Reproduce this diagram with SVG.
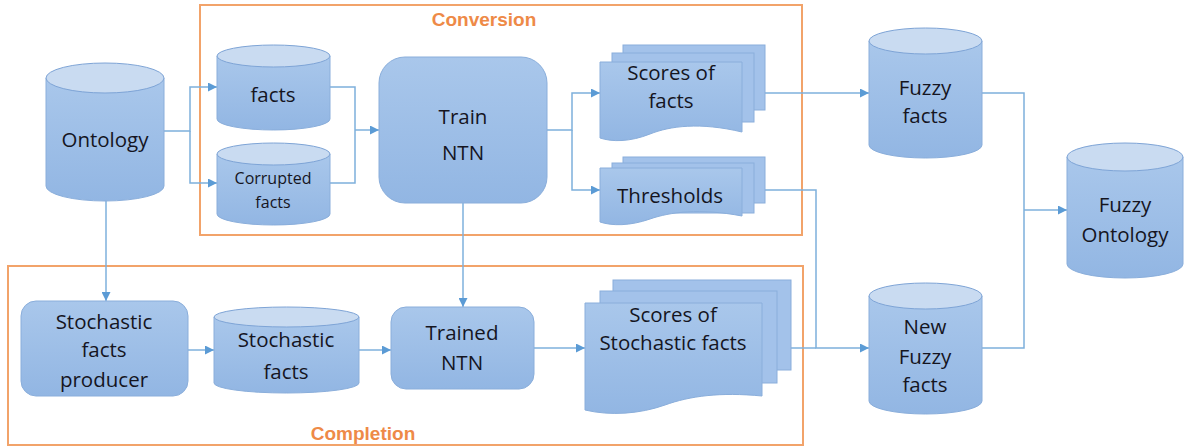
<svg xmlns="http://www.w3.org/2000/svg" width="1184" height="447" viewBox="0 0 1184 447">
<defs>
<linearGradient id="g" x1="0" y1="0" x2="0" y2="1">
<stop offset="0" stop-color="#a9c7eb"/>
<stop offset="1" stop-color="#92b6e3"/>
</linearGradient>
<marker id="a" viewBox="0 0 10 10" refX="10" refY="5" markerWidth="9" markerHeight="9" markerUnits="userSpaceOnUse" orient="auto">
<path d="M0,0 L10,5 L0,10 Z" fill="#5b9bd5"/>
</marker>
</defs>
<style>
.sh{fill:url(#g);stroke:#8aaedb;stroke-width:1}
.top{fill:#c9dbf1;stroke:#7ea4d6;stroke-width:1}
.bk{fill:#a3c2ea;stroke:#8aaedb;stroke-width:1}
.t{font-family:"Open Sans","Liberation Sans",sans-serif;font-size:20.5px;fill:#15151f;text-anchor:middle}
.s{font-size:16px}
.grp{fill:none;stroke:#f2a36a;stroke-width:2}
.lbl{font-family:"Liberation Sans",Arial,sans-serif;font-weight:bold;font-size:19px;fill:#ee8a47;text-anchor:middle}
.c{fill:none;stroke:#7eb0dc;stroke-width:1.5}
</style>
<rect fill="#ffffff" x="0" y="0" width="1184" height="447"/>
<g id="conversion">
<rect class="grp" x="200" y="5" width="602" height="230"/>
<text class="lbl" x="484" y="26">Conversion</text>
</g>
<g id="completion">
<rect class="grp" x="8" y="266" width="795" height="179"/>
<text class="lbl" x="363" y="440">Completion</text>
</g>
<g id="connectors">
<path class="c" d="M164,131 H190 V87 H217" marker-end="url(#a)"/>
<path class="c" d="M190,131 V183 H217" marker-end="url(#a)"/>
<path class="c" d="M330,87 H355 V183 H330"/>
<path class="c" d="M355,130 H379" marker-end="url(#a)"/>
<path class="c" d="M547,130 H572 V93 H600" marker-end="url(#a)"/>
<path class="c" d="M572,130 V190 H600" marker-end="url(#a)"/>
<path class="c" d="M765,93 H869" marker-end="url(#a)"/>
<path class="c" d="M765,190 H816 V348 H869" marker-end="url(#a)"/>
<path class="c" d="M791,348 H816"/>
<path class="c" d="M982,93 H1024 V348 H982"/>
<path class="c" d="M1024,210 H1067" marker-end="url(#a)"/>
<path class="c" d="M106,201 V301" marker-end="url(#a)"/>
<path class="c" d="M463,203 V307" marker-end="url(#a)"/>
<path class="c" d="M188,350 H214" marker-end="url(#a)"/>
<path class="c" d="M359,350 H391" marker-end="url(#a)"/>
<path class="c" d="M534,348 H585" marker-end="url(#a)"/>
</g>
<g id="ontology">
<path class="sh" d="M46,78 V186 A59,15 0 0 0 164,186 V78 Z"/>
<ellipse class="top" cx="105" cy="78" rx="59" ry="15"/>
<text class="t" x="105" y="147">Ontology</text>
</g>
<g id="facts">
<path class="sh" d="M217,56 V119 A56.5,11 0 0 0 330,119 V56 Z"/>
<ellipse class="top" cx="273.5" cy="56" rx="56.5" ry="11"/>
<text class="t" x="273" y="102">facts</text>
</g>
<g id="corrupted-facts">
<path class="sh" d="M217,154 V214 A56.5,11 0 0 0 330,214 V154 Z"/>
<ellipse class="top" cx="273.5" cy="154" rx="56.5" ry="11"/>
<text class="t s" x="273" y="184">Corrupted</text>
<text class="t s" x="273" y="208">facts</text>
</g>
<g id="train-ntn">
<rect class="sh" x="379" y="57" width="168" height="146" rx="26"/>
<text class="t" x="463" y="124">Train</text>
<text class="t" x="463" y="160">NTN</text>
</g>
<g id="scores-of-facts">
<rect class="bk" x="623" y="45" width="142" height="65"/>
<rect class="bk" x="612" y="53" width="142" height="69"/>
<path class="sh" d="M600,62 H742 V132 C700,122 670,126 650,134 C630,142 612,142 600,138 Z"/>
<text class="t" x="671" y="80">Scores of</text>
<text class="t" x="671" y="108">facts</text>
</g>
<g id="thresholds">
<rect class="bk" x="623" y="157" width="142" height="46"/>
<rect class="bk" x="612" y="163" width="142" height="50"/>
<path class="sh" d="M600,168 H742 V216 C700,208 670,212 650,219 C630,226 612,226 600,222 Z"/>
<text class="t" x="670" y="203">Thresholds</text>
</g>
<g id="fuzzy-facts">
<path class="sh" d="M869,41 V145 A56.5,13 0 0 0 982,145 V41 Z"/>
<ellipse class="top" cx="925.5" cy="41" rx="56.5" ry="13"/>
<text class="t" x="925" y="95">Fuzzy</text>
<text class="t" x="925" y="123">facts</text>
</g>
<g id="fuzzy-ontology">
<path class="sh" d="M1067,157 V264 A58,14 0 0 0 1183,264 V157 Z"/>
<ellipse class="top" cx="1125" cy="157" rx="58" ry="14"/>
<text class="t" x="1125" y="212">Fuzzy</text>
<text class="t" x="1125" y="242">Ontology</text>
</g>
<g id="new-fuzzy-facts">
<path class="sh" d="M869,296 V401 A56.5,13 0 0 0 982,401 V296 Z"/>
<ellipse class="top" cx="925.5" cy="296" rx="56.5" ry="13"/>
<text class="t" x="925" y="334">New</text>
<text class="t" x="925" y="364">Fuzzy</text>
<text class="t" x="925" y="392">facts</text>
</g>
<g id="stochastic-facts-producer">
<rect class="sh" x="21" y="301" width="167" height="95" rx="15"/>
<text class="t" x="104" y="329">Stochastic</text>
<text class="t" x="104" y="357">facts</text>
<text class="t" x="104" y="387">producer</text>
</g>
<g id="stochastic-facts">
<path class="sh" d="M214,317 V383 A72.5,10 0 0 0 359,383 V317 Z"/>
<ellipse class="top" cx="286.5" cy="317" rx="72.5" ry="10"/>
<text class="t" x="286" y="347">Stochastic</text>
<text class="t" x="286" y="379">facts</text>
</g>
<g id="trained-ntn">
<rect class="sh" x="391" y="307" width="143" height="82" rx="15"/>
<text class="t" x="462" y="340">Trained</text>
<text class="t" x="462" y="370">NTN</text>
</g>
<g id="scores-of-stochastic-facts">
<rect class="bk" x="613" y="280" width="178" height="90"/>
<rect class="bk" x="600" y="291" width="177" height="92"/>
<path class="sh" d="M585,303 H762 V396 C720,392 690,396 665,405 C640,414 610,416 585,410 Z"/>
<text class="t" x="673" y="322">Scores of</text>
<text class="t" x="673" y="350">Stochastic facts</text>
</g>
</svg>
